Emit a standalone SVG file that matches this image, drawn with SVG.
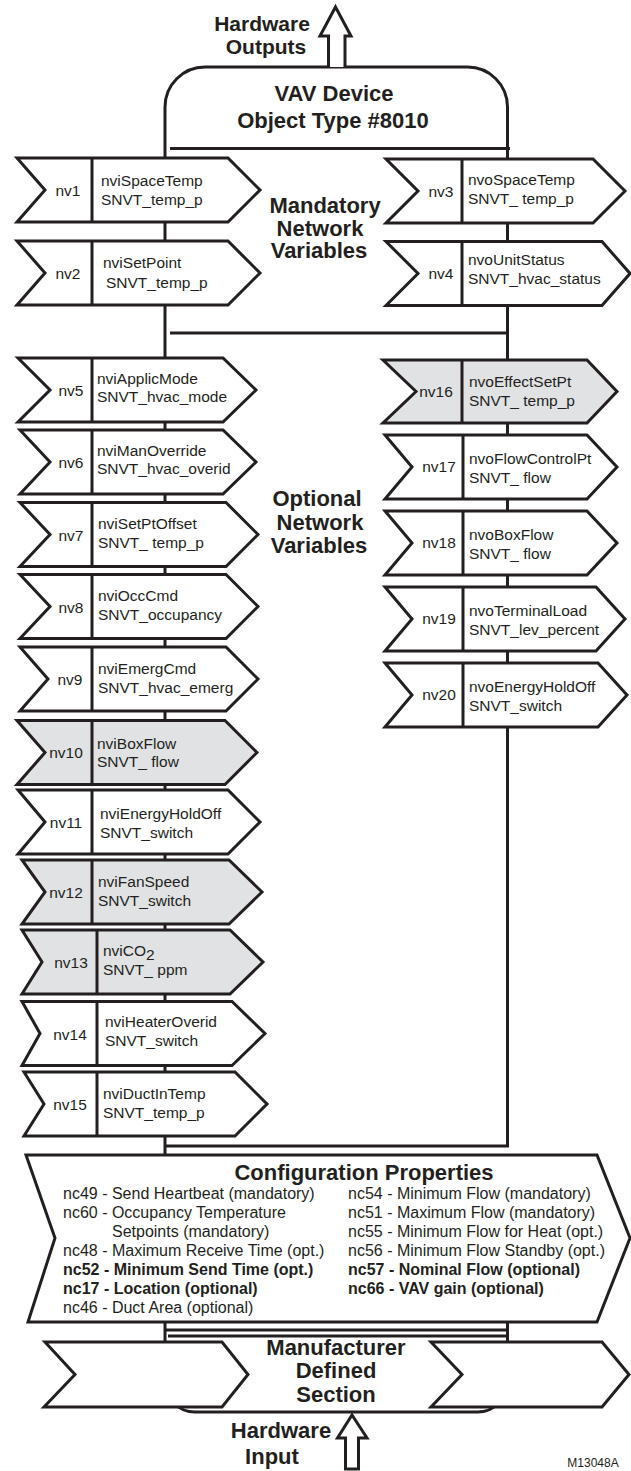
<svg xmlns="http://www.w3.org/2000/svg" width="631" height="1471" viewBox="0 0 631 1471">
<style>
.sh{fill:#fff;stroke:#231f20;stroke-width:3;stroke-linejoin:miter}
.gr{fill:#e1e2e4}
.ln{fill:none;stroke:#231f20;stroke-width:3}
text{font-family:"Liberation Sans",Arial,Helvetica,sans-serif;fill:#231f20}
.t{font-size:15.5px}
.l{font-size:15.5px;text-anchor:middle}
.h{font-size:22px;font-weight:bold;text-anchor:middle}
.hw{font-size:21px;font-weight:bold;text-anchor:middle}
.c{font-size:16px}
.cb{font-size:16px;font-weight:bold}
</style>
<rect width="631" height="1471" fill="#fff"/>
<g id="connectors">
<path class="ln" d="M165,1155 V107 A40,40 0 0 1 205,67 H467.5 A40,40 0 0 1 507.5,107 V1146 H165"/>
<line class="ln" x1="170" y1="148.5" x2="510" y2="148.5"/>
<line class="ln" x1="170" y1="333" x2="508" y2="333"/>
<path class="ln" d="M165,1322 V1382 A30,30 0 0 0 195,1412 H477.5 A30,30 0 0 0 507.5,1382 V1322"/>
<line class="ln" x1="165" y1="1330" x2="507.5" y2="1330"/>
<line class="ln" x1="168" y1="1336" x2="507.5" y2="1336"/>
</g>
<g id="hw-out">
<path class="sh" d="M328.5,67 V36 H320 L335.5,7 L351,36 H345 V67"/>
<text class="hw" x="262" y="30.5">Hardware</text>
<text class="hw" x="266" y="54">Outputs</text>
</g>
<g id="title">
<text class="h" x="334" y="101">VAV Device</text>
<text class="h" x="333" y="128">Object Type #8010</text>
</g>
<g id="mandatory-label">
<text class="h" x="325" y="213">Mandatory</text>
<text class="h" x="320" y="235.5">Network</text>
<text class="h" x="319" y="258">Variables</text>
</g>
<g id="optional-label">
<text class="h" x="317" y="506">Optional</text>
<text class="h" x="320" y="529.5">Network</text>
<text class="h" x="319" y="553">Variables</text>
</g>
<g id="nv1"><path class="sh" d="M17,158 H228 L260,190 L228,222 H17 L45,190 Z"/><line class="ln" x1="92" y1="158" x2="92" y2="222"/><text class="l" x="68" y="196">nv1</text><text class="t" x="101" y="186">nviSpaceTemp</text><text class="t" x="101" y="205">SNVT_temp_p</text></g>
<g id="nv2"><path class="sh" d="M17,241 H228 L260,273 L228,305 H17 L45,273 Z"/><line class="ln" x1="92" y1="241" x2="92" y2="305"/><text class="l" x="68" y="279">nv2</text><text class="t" x="103" y="268">nviSetPoint</text><text class="t" x="106" y="288">SNVT_temp_p</text></g>
<g id="nv3"><path class="sh" d="M386,159 H593 L625,191 L593,223 H386 L418,191 Z"/><line class="ln" x1="462" y1="159" x2="462" y2="223"/><text class="l" x="441" y="197">nv3</text><text class="t" x="468" y="185">nvoSpaceTemp</text><text class="t" x="468" y="204">SNVT_ temp_p</text></g>
<g id="nv4"><path class="sh" d="M386,241.5 H602 L630,273.5 L602,305.5 H386 L418,273.5 Z"/><line class="ln" x1="462" y1="241.5" x2="462" y2="305.5"/><text class="l" x="441" y="279">nv4</text><text class="t" x="468" y="265">nvoUnitStatus</text><text class="t" x="468" y="284">SNVT_hvac_status</text></g>
<g id="nv5"><path class="sh" d="M18,358 H223 L256,390 L223,422 H18 L50,390 Z"/><line class="ln" x1="92" y1="358" x2="92" y2="422"/><text class="l" x="71" y="396">nv5</text><text class="t" x="97" y="384">nviApplicMode</text><text class="t" x="97" y="402">SNVT_hvac_mode</text></g>
<g id="nv6"><path class="sh" d="M20,430 H223 L256,462 L223,494 H20 L50,462 Z"/><line class="ln" x1="92" y1="430" x2="92" y2="494"/><text class="l" x="71" y="468">nv6</text><text class="t" x="97" y="456">nviManOverride</text><text class="t" x="97" y="474">SNVT_hvac_overid</text></g>
<g id="nv7"><path class="sh" d="M20,502.5 H226 L258,534.5 L226,566.5 H20 L50,534.5 Z"/><line class="ln" x1="92" y1="502.5" x2="92" y2="566.5"/><text class="l" x="71" y="540.5">nv7</text><text class="t" x="98" y="529">nviSetPtOffset</text><text class="t" x="98" y="548">SNVT_ temp_p</text></g>
<g id="nv8"><path class="sh" d="M20,574.5 H226 L258,606.5 L226,638.5 H20 L50,606.5 Z"/><line class="ln" x1="92" y1="574.5" x2="92" y2="638.5"/><text class="l" x="71" y="612.5">nv8</text><text class="t" x="98" y="601">nviOccCmd</text><text class="t" x="98" y="620">SNVT_occupancy</text></g>
<g id="nv9"><path class="sh" d="M20,647 H226 L258,679 L226,711 H20 L48,679 Z"/><line class="ln" x1="92" y1="647" x2="92" y2="711"/><text class="l" x="70" y="685">nv9</text><text class="t" x="98" y="674">nviEmergCmd</text><text class="t" x="98" y="693">SNVT_hvac_emerg</text></g>
<g id="nv10"><path class="sh gr" d="M17,720.5 H225 L257,752.5 L225,784.5 H17 L45,752.5 Z"/><line class="ln" x1="92" y1="720.5" x2="92" y2="784.5"/><text class="l" x="66" y="758">nv10</text><text class="t" x="97" y="748.5">nviBoxFlow</text><text class="t" x="97" y="767">SNVT_ flow</text></g>
<g id="nv11"><path class="sh" d="M18,790 H228 L260,822 L228,854 H18 L45,822 Z"/><line class="ln" x1="92" y1="790" x2="92" y2="854"/><text class="l" x="66" y="828">nv11</text><text class="t" x="100" y="818.5">nviEnergyHoldOff</text><text class="t" x="100" y="837.5">SNVT_switch</text></g>
<g id="nv12"><path class="sh gr" d="M22,860 H229 L262,892 L229,924 H22 L45,892 Z"/><line class="ln" x1="92" y1="860" x2="92" y2="924"/><text class="l" x="66" y="898">nv12</text><text class="t" x="98" y="887">nviFanSpeed</text><text class="t" x="98" y="906">SNVT_switch</text></g>
<g id="nv13"><path class="sh gr" d="M22,930 H230 L263,962 L230,994 H22 L42,962 Z"/><line class="ln" x1="97" y1="930" x2="97" y2="994"/><text class="l" x="71" y="968">nv13</text><text class="t" x="103" y="956">nviCO<tspan dy="4">2</tspan></text><text class="t" x="103" y="974.5">SNVT_ ppm</text></g>
<g id="nv14"><path class="sh" d="M22,1001.5 H232 L265,1033.5 L232,1065.5 H22 L40,1033.5 Z"/><line class="ln" x1="97" y1="1001.5" x2="97" y2="1065.5"/><text class="l" x="70" y="1039.5">nv14</text><text class="t" x="105" y="1027">nviHeaterOverid</text><text class="t" x="105" y="1046">SNVT_switch</text></g>
<g id="nv15"><path class="sh" d="M24,1072 H235 L267,1104 L235,1136 H24 L44,1104 Z"/><line class="ln" x1="97" y1="1072" x2="97" y2="1136"/><text class="l" x="70" y="1110">nv15</text><text class="t" x="103" y="1099">nviDuctInTemp</text><text class="t" x="103" y="1118">SNVT_temp_p</text></g>
<g id="nv16"><path class="sh gr" d="M383,360 H587 L617,391.5 L587,423 H383 L416,391.5 Z"/><line class="ln" x1="462" y1="360" x2="462" y2="423"/><text class="l" x="436" y="397">nv16</text><text class="t" x="469" y="387">nvoEffectSetPt</text><text class="t" x="469" y="406">SNVT_ temp_p</text></g>
<g id="nv17"><path class="sh" d="M385,435 H587 L617,467 L587,499 H385 L412,467 Z"/><line class="ln" x1="463" y1="435" x2="463" y2="499"/><text class="l" x="439" y="472">nv17</text><text class="t" x="469" y="464">nvoFlowControlPt</text><text class="t" x="469" y="483">SNVT_ flow</text></g>
<g id="nv18"><path class="sh" d="M385,511 H587 L617,543 L587,575 H385 L412,543 Z"/><line class="ln" x1="463" y1="511" x2="463" y2="575"/><text class="l" x="439" y="548">nv18</text><text class="t" x="469" y="540">nvoBoxFlow</text><text class="t" x="469" y="559">SNVT_ flow</text></g>
<g id="nv19"><path class="sh" d="M385,587 H596 L625,619 L596,651 H385 L412,619 Z"/><line class="ln" x1="463" y1="587" x2="463" y2="651"/><text class="l" x="439" y="624">nv19</text><text class="t" x="469" y="616">nvoTerminalLoad</text><text class="t" x="469" y="635">SNVT_lev_percent</text></g>
<g id="nv20"><path class="sh" d="M385,663 H598 L627,695 L598,727 H385 L412,695 Z"/><line class="ln" x1="463" y1="663" x2="463" y2="727"/><text class="l" x="439" y="700">nv20</text><text class="t" x="469" y="692">nvoEnergyHoldOff</text><text class="t" x="469" y="711">SNVT_switch</text></g>
<g id="config">
<path class="sh" d="M26,1155 H597 L630,1238 L597,1322 H28 L55,1238 Z"/>
<text class="h" x="364" y="1180">Configuration Properties</text>
<text class="c" x="63" y="1199">nc49 - Send Heartbeat (mandatory)</text>
<text class="c" x="63" y="1218">nc60 - Occupancy Temperature</text>
<text class="c" x="112" y="1237">Setpoints (mandatory)</text>
<text class="c" x="63" y="1256">nc48 - Maximum Receive Time (opt.)</text>
<text class="cb" x="63" y="1275">nc52 - Minimum Send Time (opt.)</text>
<text class="cb" x="63" y="1294">nc17 - Location (optional)</text>
<text class="c" x="63" y="1313">nc46 - Duct Area (optional)</text>
<text class="c" x="348" y="1199">nc54 - Minimum Flow (mandatory)</text>
<text class="c" x="348" y="1218">nc51 - Maximum Flow (mandatory)</text>
<text class="c" x="348" y="1237">nc55 - Minimum Flow for Heat (opt.)</text>
<text class="c" x="348" y="1256">nc56 - Minimum Flow Standby (opt.)</text>
<text class="cb" x="348" y="1275">nc57 - Nominal Flow (optional)</text>
<text class="cb" x="348" y="1294">nc66 - VAV gain (optional)</text>
</g>
<g id="manufacturer">
<path class="sh" d="M45,1342 H222 L248,1374.5 L222,1407 H44 L75,1374.5 Z"/>
<path class="sh" d="M431,1342 H602 L629,1374.5 L602,1407 H431 L462,1374.5 Z"/>
<text class="h" x="336" y="1355">Manufacturer</text>
<text class="h" x="336" y="1378">Defined</text>
<text class="h" x="336" y="1402">Section</text>
</g>
<g id="hw-in">
<path class="sh" d="M345.5,1469 V1438 H337.5 L352,1415 L367,1438 H358.5 V1469 Z"/>
<text class="h" x="281" y="1438">Hardware</text>
<text class="h" x="272" y="1464">Input</text>
</g>
<text x="593" y="1467" font-size="12" text-anchor="middle">M13048A</text>
</svg>
